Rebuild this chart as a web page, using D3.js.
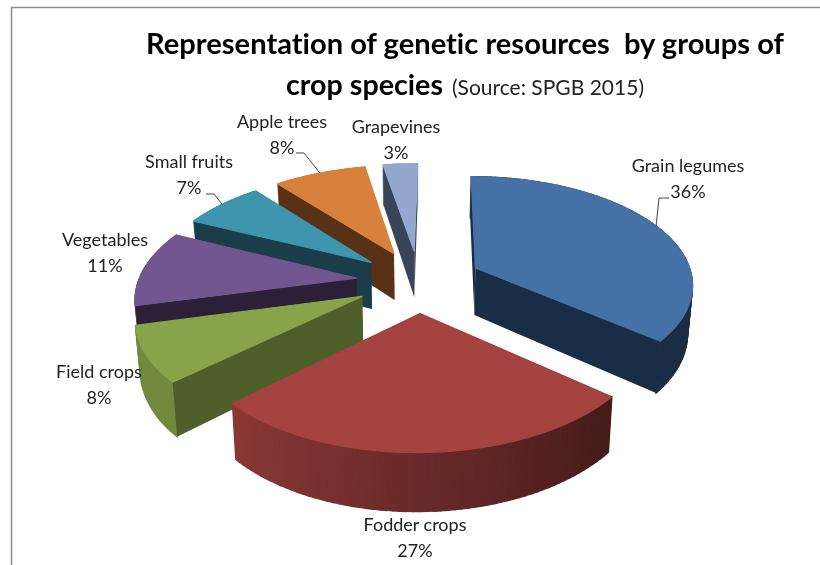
<!DOCTYPE html>
<html>
<head>
<meta charset="utf-8">
<script src="https://cdn.jsdelivr.net/npm/d3@7"></script>
<style>
  html, body { margin: 0; padding: 0; background: #fff; }
  svg { display: block; filter: blur(0.35px); }
  text { font-family: Lato, "Open Sans", sans-serif; fill: #222; font-variant-ligatures: none; }
</style>
</head>
<body>
<svg width="820" height="565"></svg>
<script>
// Chart data
var categories = ["Grain legumes", "Fodder crops", "Field crops", "Vegetables", "Small fruits", "Apple trees", "Grapevines"];
var shares = [36, 27, 8, 11, 7, 8, 3];

// Colours per slice
var topColors = ["#4571a7", "#a54340", "#87a44a", "#71568f", "#3f95ae", "#d8813c", "#94a8cf"];
var cutColors = ["#1a2d46", "#431a17", "#4f5f2c", "#2c2038", "#1b3d49", "#573217", "#3a4458"];

// Label centres [x, y of the name line], and which ones get a leader line
var labelPos = [[688, 172], [415, 531], [99, 378], [105, 246], [189, 168], [282, 128], [396, 133]];
var leaderKnee = [[669, 198], null, null, null, [206, 194], [296, 153], null];

// 3d pie geometry
var cx = 419, cy = 281;
var radius = 218, explode = 63, depth = 48;
var tilt = 0.496, persp = 1497, skew = 0.015;

var svg = d3.select("svg");

// frame left over from the spreadsheet screenshot
svg.append("path")
    .attr("d", "M11.5,565V7.5H820")
    .attr("fill", "none")
    .attr("stroke", "#8c8c8c")
    .attr("stroke-width", 1.5);

var pie = d3.pie().sort(null).value(function(d) { return d; });
var arcs = pie(shares);

// ground plane -> screen. lower = true gives the point on the underside
function project(x, z, lower) {
    var w = 1 + z / persp;
    var sx = (x + skew * z) / w, sy = -tilt * z / w;
    if (lower) {
        sx = sx * 0.982;
        sy = sy + depth / w;
    }
    return [cx + sx, cy + sy];
}

function rimPoint(d, angle, r, lower) {
    var mid = (d.startAngle + d.endAngle) / 2;
    var x = explode * Math.sin(mid) + r * Math.sin(angle);
    var z = explode * Math.cos(mid) + r * Math.cos(angle);
    return project(x, z, lower);
}

function rimAngles(d) {
    var step = Math.PI / 120;
    var list = d3.range(d.startAngle, d.endAngle, step);
    list.push(d.endAngle);
    return list;
}

var line = d3.line();

function closed(points) {
    return line(points) + "Z";
}

// outer wall gets darker towards the right, like Excel's lighting
var wallShade = d3.scaleLinear()
    .domain([130 * Math.PI / 180, 226 * Math.PI / 180])
    .range([0.41, 0.84])
    .clamp(true);

function shade(color, f) {
    var c = d3.rgb(color);
    return d3.rgb(c.r * f, c.g * f, c.b * f).formatHex();
}

// back to front: grapevines first, fodder crops last
var drawOrder = [6, 5, 4, 3, 2, 0, 1];

var slices = svg.selectAll("g.slice")
    .data(drawOrder.map(function(i) { return arcs[i]; }))
    .enter()
    .append("g")
    .attr("class", "slice");

slices.each(function(d) {
    var g = d3.select(this);
    var i = d.index;

    function cutWall(angle) {
        g.append("path")
            .attr("d", closed([
                rimPoint(d, 0, 0, false),
                rimPoint(d, angle, radius, false),
                rimPoint(d, angle, radius, true),
                rimPoint(d, 0, 0, true)
            ]))
            .attr("fill", cutColors[i]);
    }

    // a cut face is only seen when it turns towards the viewer
    var startSeen = Math.sin(d.startAngle) < -1e-6;
    var endSeen = Math.sin(d.endAngle) > 1e-6;

    if (!startSeen) cutWall(d.startAngle);
    if (!endSeen) cutWall(d.endAngle);

    // outer wall in thin strips so the shading can change along it
    var angles = rimAngles(d);
    g.selectAll("path.wall")
        .data(d3.pairs(angles))
        .enter()
        .append("path")
        .attr("class", "wall")
        .attr("d", function(p) {
            return closed([
                rimPoint(d, p[0], radius, false),
                rimPoint(d, p[1], radius, false),
                rimPoint(d, p[1], radius, true),
                rimPoint(d, p[0], radius, true)
            ]);
        })
        .attr("fill", function(p) { return shade(topColors[i], wallShade((p[0] + p[1]) / 2)); })
        .attr("stroke", function(p) { return shade(topColors[i], wallShade((p[0] + p[1]) / 2)); })
        .attr("stroke-width", 1.2);

    if (startSeen) cutWall(d.startAngle);
    if (endSeen) cutWall(d.endAngle);

    // top face, stroked so the wall strips don't peek out behind it
    var outline = [rimPoint(d, 0, 0, false)].concat(angles.map(function(a) {
        return rimPoint(d, a, radius, false);
    }));
    g.append("path")
        .attr("d", closed(outline))
        .attr("fill", topColors[i])
        .attr("stroke", topColors[i])
        .attr("stroke-width", 1.2)
        .attr("stroke-linejoin", "round");
});

// Leader lines
var leaders = arcs.filter(function(d) { return leaderKnee[d.index]; });
svg.selectAll("path.leader")
    .data(leaders)
    .enter()
    .append("path")
    .attr("class", "leader")
    .attr("fill", "none")
    .attr("stroke", "#444")
    .attr("stroke-width", 1)
    .attr("d", function(d) {
        var knee = leaderKnee[d.index];
        var mid = (d.startAngle + d.endAngle) / 2;
        var end = rimPoint(d, mid, radius, false);
        var inner = d.index === 0 ? [knee[0] - 10, knee[1]] : [knee[0] + 8, knee[1]];
        return line([end, inner, knee]);
    });

// Data labels
var labels = svg.selectAll("g.label")
    .data(arcs)
    .enter()
    .append("g")
    .attr("class", "label")
    .attr("text-anchor", "middle")
    .attr("font-size", "18px")
    .attr("transform", function(d) {
        return "translate(" + labelPos[d.index][0] + "," + labelPos[d.index][1] + ")";
    });

labels.append("text")
    .text(function(d) { return categories[d.index]; });

labels.append("text")
    .attr("y", 25.5)
    .text(function(d) { return d.value + "%"; });

// Title
svg.append("text")
    .attr("x", 146)
    .attr("y", 54)
    .attr("font-size", "29px")
    .attr("font-weight", "700")
    .attr("textLength", 638)
    .attr("lengthAdjust", "spacingAndGlyphs")
    .style("white-space", "pre")
    .style("fill", "#000")
    .text("Representation of genetic resources  by groups of");

svg.append("text")
    .attr("x", 286)
    .attr("y", 95)
    .attr("font-size", "29px")
    .attr("font-weight", "700")
    .style("fill", "#000")
    .attr("textLength", 157)
    .attr("lengthAdjust", "spacingAndGlyphs")
    .text("crop species");

svg.append("text")
    .attr("x", 452)
    .attr("y", 95)
    .attr("font-size", "21px")
    .attr("textLength", 192)
    .attr("lengthAdjust", "spacingAndGlyphs")
    .text("(Source: SPGB 2015)");
</script>
</body>
</html>
